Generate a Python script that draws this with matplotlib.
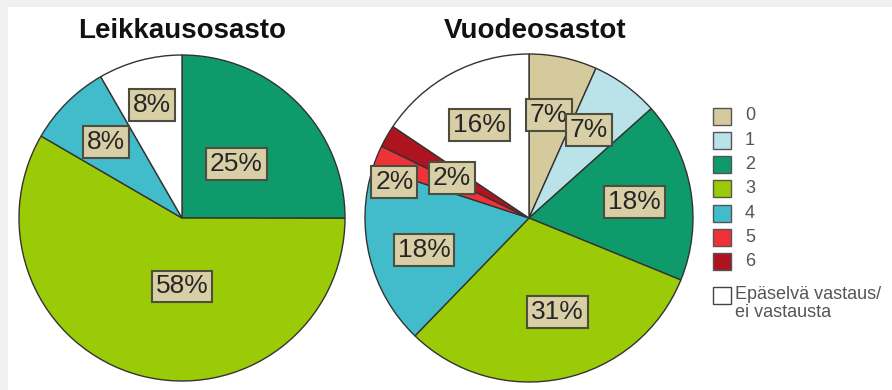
import numpy as np
import matplotlib
matplotlib.use('Agg')
import matplotlib.pyplot as plt
from matplotlib.patches import Rectangle

plt.rcParams['font.family'] = ['Liberation Sans', 'DejaVu Sans']

# Response categories shared by both pies, with their fill colours
CATEGORIES = ['0', '1', '2', '3', '4', '5', '6', 'Epäselvä vastaus/\nei vastausta']
COLORS = ['#d5ca9c', '#b9e3e8', '#0f9a6c', '#9acb06', '#42bccb',
          '#ee3238', '#ad1420', '#ffffff']

# Leikkausosasto: categories present (index into CATEGORIES) and shares (%)
SURGERY_CATS = [2, 3, 4, 7]
SURGERY_PCT = [25.0, 58.3, 8.3, 8.3]

# Vuodeosastot
WARD_CATS = [0, 1, 2, 3, 4, 5, 6, 7]
WARD_PCT = [6.7, 6.7, 17.8, 31.1, 17.8, 2.2, 2.2, 15.6]

W, H = 892, 390


def fx(x):
    return x / W


def fy(y):
    return 1 - y / H


def draw_pie(ax, values, cats, label_r, label_nudge):
    wedges, _ = ax.pie(values, colors=[COLORS[c] for c in cats],
                       startangle=90, counterclock=False, radius=1,
                       wedgeprops=dict(edgecolor='#333333', linewidth=1.0))
    for w, v, r, dn in zip(wedges, values, label_r, label_nudge):
        ang = np.deg2rad((w.theta1 + w.theta2) / 2 + dn)
        ax.text(r * np.cos(ang), r * np.sin(ang), f'{v:.0f}%',
                ha='center', va='center', fontsize=19, color='#262626',
                bbox=dict(boxstyle='square,pad=0.15', fc='#d9cfa6',
                          ec='#4d4d40', lw=1.5))
    ax.set_xlim(-1, 1)
    ax.set_ylim(-1, 1)
    ax.set_aspect('equal')
    ax.axis('off')


fig = plt.figure(figsize=(W / 100, H / 100), dpi=100, facecolor='white')

# light grey frame along the top and left edges
fig.add_artist(Rectangle((0, fy(7)), 1, 7 / H, transform=fig.transFigure,
                         fc='#f1f1f1', ec='none'))
fig.add_artist(Rectangle((0, 0), 8 / W, 1, transform=fig.transFigure,
                         fc='#f1f1f1', ec='none'))

ax1 = fig.add_axes([fx(19), fy(381), 326 / W, 326 / H])
draw_pie(ax1, SURGERY_PCT, SURGERY_CATS,
         [0.47, 0.42, 0.66, 0.72], [0, 15, 0, 0])

ax2 = fig.add_axes([fx(365), fy(382), 328 / W, 328 / H])
draw_pie(ax2, WARD_PCT, WARD_CATS,
         [0.64, 0.65, 0.65, 0.60, 0.67, 0.85, 0.53, 0.64],
         [1, 2, -1, 5, 3, 7, 2.5, 0])

fig.text(fx(182), fy(31), 'Leikkausosasto', ha='center', va='center',
         fontsize=20, fontweight='bold', color='#111111')
fig.text(fx(535), fy(31), 'Vuodeosastot', ha='center', va='center',
         fontsize=20, fontweight='bold', color='#111111')

# legend, drawn by hand
y0, step = 116, 24.3
for i, (name, col) in enumerate(zip(CATEGORIES, COLORS)):
    if i < 7:
        yc = y0 + i * step
        fig.add_artist(Rectangle((fx(713), fy(yc + 8.5)), 18 / W, 17 / H,
                                 transform=fig.transFigure, fc=col,
                                 ec='#555555', lw=1.0))
        fig.text(fx(745), fy(yc), name, ha='left', va='center',
                 fontsize=13, color='#555555')
    else:
        yc = 295
        fig.add_artist(Rectangle((fx(713), fy(yc + 8.5)), 18 / W, 17 / H,
                                 transform=fig.transFigure, fc=col,
                                 ec='#444444', lw=1.0))
        fig.text(fx(735), fy(yc - 9), name, ha='left', va='top',
                 fontsize=13, color='#555555', linespacing=1.05)

fig.savefig('out.png', dpi=100, facecolor='white')
